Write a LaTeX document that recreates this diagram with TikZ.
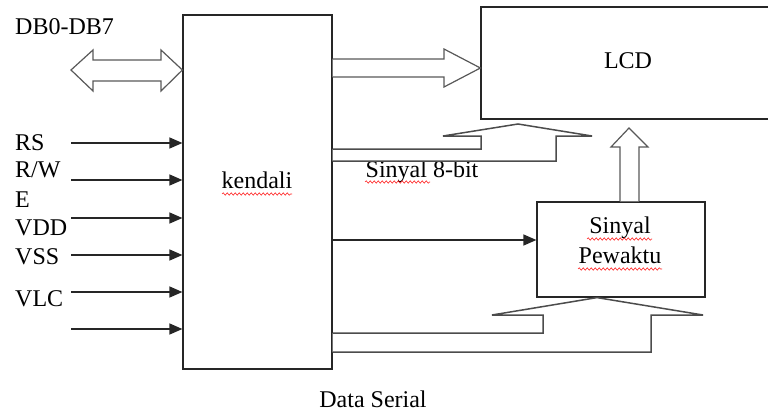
\documentclass[tikz,border=0pt]{standalone}
\usepackage{fontspec}
\setmainfont{Liberation Serif}
\usetikzlibrary{arrows.meta,decorations.pathmorphing}
\begin{document}
\begin{tikzpicture}[x=1pt,y=-1pt,
  font=\fontsize{24}{28}\selectfont,
  box/.style={draw=black!85,line width=1.2pt,fill=white,inner sep=0pt},
  lbl/.style={inner sep=0pt,anchor=base west},
  clbl/.style={inner sep=0pt,anchor=base},
  sig/.style={draw=black!85,line width=1.4pt,-{Triangle[length=13pt,width=11pt]}},
  fat/.style={draw=black!65,line width=1.2pt,fill=white,line join=miter},
  conn/.style={draw=black!70,line width=1.5pt,line join=miter},
  spell/.style={draw=red!85,line width=0.6pt,decorate,
    decoration={snake,segment length=4pt,amplitude=1.2pt}}]
\useasboundingbox (0,0) rectangle (768,412);

% main blocks
\node[box,minimum width=149pt,minimum height=354pt] (k) at (257.5,192) {};
\node[box,minimum width=300pt,minimum height=112pt] (lcd) at (631,63) {};
\node[box,minimum width=168pt,minimum height=95pt] (sp) at (621,249.5) {};

% block texts
\node[clbl] (ktxt) at (257,188) {kendali};
\node[clbl] (lcdtxt) at (628,68) {LCD};
\node[clbl] (sp1) at (620,233) {Sinyal};
\node[clbl] (sp2) at (620,263) {Pewaktu};

% pin labels
\node[lbl] (db) at (15,35) {DB0-DB7};
\node[lbl] (rs) at (15,150) {RS};
\node[lbl] (rw) at (15,177) {R/W};
\node[lbl] (e) at (15,207) {E};
\node[lbl] (vdd) at (15,235) {VDD};
\node[lbl] (vss) at (15,264) {VSS};
\node[lbl] (vlc) at (15,306) {VLC};
\node[clbl] (s8) at (422,177) {Sinyal 8-bit};
\node[clbl] (ds) at (373,407) {Data Serial};

% spell-check underlines
\draw[spell] (222,194) -- (292,194);
\draw[spell] (365,182) -- (430,182);
\draw[spell] (587,239) -- (652,239);
\draw[spell] (578,269) -- (662,269);

% control inputs
\foreach \yy in {143,180,218,255,292,329}
  \draw[sig] (71,\yy) -- (k.west |- 0,\yy);

% bidirectional data bus
\draw[fat] (k.west |- 0,70) -- (161,50) -- (161,60) -- (93,60) -- (93,50) -- (71,70)
  -- (93,91) -- (93,81) -- (161,81) -- (161,91) -- cycle;

% data to LCD
\draw[fat] (k.east |- 0,59) -- (444,59) -- (444,49) -- (lcd.west |- 0,68)
  -- (444,87) -- (444,77) -- (k.east |- 0,77);

% 8-bit signal bent arrow into LCD
\draw[conn,fill=white] (k.east |- 0,149) -- (481,149) -- (481,136) -- (443,136)
  -- (518,124) -- (592,136) -- (556,136) -- (556,161) -- (k.east |- 0,161);

% timing block to LCD
\draw[fat] (sp.north -| 620,0) -- (620,147) -- (611,147) -- (629,128)
  -- (648,147) -- (639,147) -- (sp.north -| 639,0);

% enable to timing block
\draw[sig] (k.east |- 0,240) -- (sp.west |- 0,240);

% serial data bent arrow into timing block
\draw[conn,fill=white] (k.east |- 0,333) -- (543,333) -- (543,315) -- (492,315)
  -- (sp.south -| 597,0) -- (703,315) -- (651,315) -- (651,352) -- (k.east |- 0,352);
\end{tikzpicture}
\end{document}
